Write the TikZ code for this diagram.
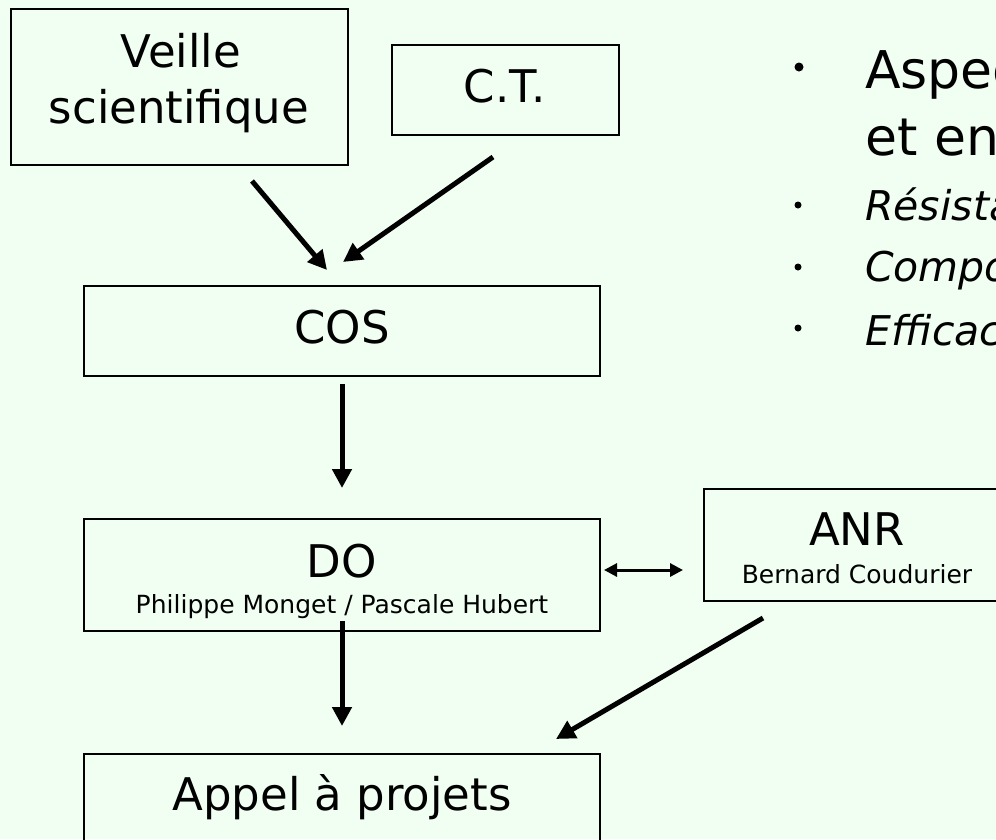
\documentclass[tikz,border=0pt]{standalone}
\usepackage{fontspec}
\setmainfont{DejaVu Sans}
\usetikzlibrary{arrows.meta}
\definecolor{bgcol}{RGB}{240,255,242}

\tikzset{
  box/.style={draw, line width=2.5pt, inner sep=0pt, outer sep=0pt},
  big/.style={font=\fontsize{45}{56}\selectfont, inner sep=0pt, anchor=base},
  small/.style={font=\fontsize{25}{30}\selectfont, inner sep=0pt, anchor=base},
  item/.style={font=\fontsize{41}{48}\selectfont\itshape, inner sep=0pt, anchor=base west},
  arr/.style={line width=5pt, -{Triangle[length=19pt,width=19pt]}},
  dbl/.style={line width=3pt, {Triangle[length=13pt,width=13pt]}-{Triangle[length=13pt,width=13pt]}},
}

\begin{document}
\begin{tikzpicture}[x=1pt,y=-1pt]
    \useasboundingbox (0,0) rectangle (996,839);
    \fill[bgcol] (0,0) rectangle (996,839);
    \clip (0,0) rectangle (996,839);

    \node[box, minimum width=337pt, minimum height=156pt] at (179.5,87) (veille) {};
    \node[big] at (181,67) (tveille) {Veille};
    \node[big] at (179,123) (tscient) {scientifique};
    \node[box, minimum width=227pt, minimum height=90pt] at (505.5,90) (ct) {};
    \node[big] at (505,102) (tct) {C.T.};
    \node[box, minimum width=516pt, minimum height=90pt] at (342,331) (cos) {};
    \node[big] at (342,343) (tcos) {COS};
    \node[box, minimum width=516pt, minimum height=112pt] at (342,575) (do) {};
    \node[big] at (342,577) (tdo) {DO};
    \node[small] at (342,613) (tdonames) {Philippe Monget / Pascale Hubert};
    \node[box, minimum width=308pt, minimum height=112pt] at (858,545) (anr) {};
    \node[big] at (857,545) (tanr) {ANR};
    \node[small] at (857,583) (tanrname) {Bernard Coudurier};
    \node[box, minimum width=516pt, minimum height=90pt] at (342,799) (appel) {};
    \node[big] at (342,810) (tappel) {Appel à projets};

    \draw[arr] ([xshift=-96pt,yshift=-16pt]veille.south east) -- ([xshift=-15pt,yshift=16pt]cos.north);
    \draw[arr] ([xshift=-12.5pt,yshift=-22pt]ct.south) -- ([xshift=1pt,yshift=24pt]cos.north);
    \draw[arr, shorten <=8pt, shorten >=31pt] (cos) -- (do);
    \draw[arr, shorten <=-10pt, shorten >=28pt] (do) -- (appel);
    \draw[dbl] ([xshift=4pt,yshift=5pt]do.east) -- ([xshift=-21pt,yshift=-25pt]anr.west);
    \draw[arr] ([xshift=59pt,yshift=-17pt]anr.south west) -- ([xshift=-44pt,yshift=15pt]appel.north east);

    \fill (799,67) circle (4.5);
    \node[big, font=\fontsize{52}{67}\selectfont, anchor=base west] at (865,88) (asp) {Aspec};
    \node[big, font=\fontsize{52}{67}\selectfont, anchor=base west] at (865,155) (asp2) {et en};
    \fill (798,205) circle (3.5);
    \node[item] at (865,220) (res) {Résista};
    \fill (798,267) circle (3.5);
    \node[item] at (865,281) (comp) {Compor};
    \fill (798,328) circle (3.5);
    \node[item] at (865,345) (eff) {Efficac};
\end{tikzpicture}
\end{document}
